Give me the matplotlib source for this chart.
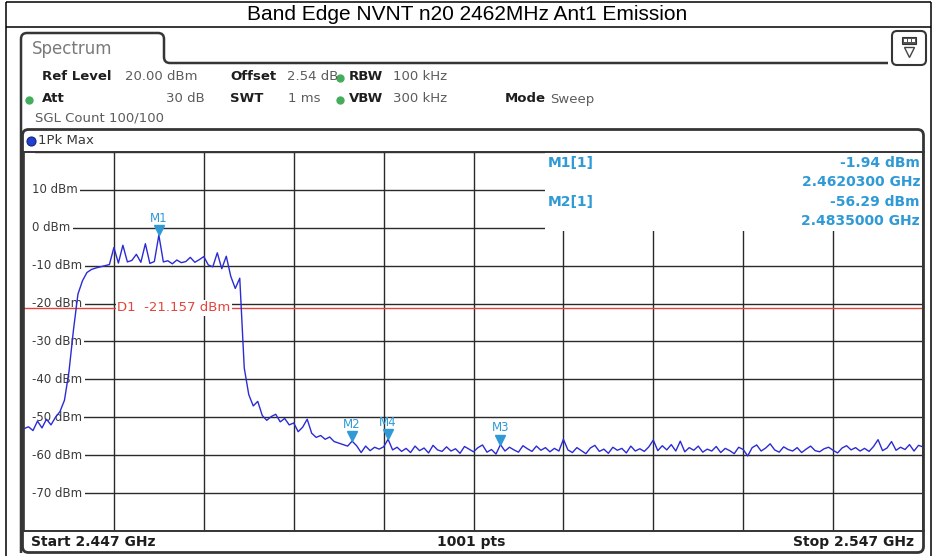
import numpy as np
import matplotlib
matplotlib.use("Agg")
import matplotlib.pyplot as plt
from matplotlib.patches import Rectangle, FancyBboxPatch, PathPatch
from matplotlib.path import Path
from matplotlib.transforms import offset_copy

# ---- data ----
TITLE = "Band Edge NVNT n20 2462MHz Ant1 Emission"
START_GHZ = 2.447
STOP_GHZ = 2.547
REF_LEVEL = 20.0
LEVEL_LABELS = [10, 0, -10, -20, -30, -40, -50, -60, -70]
D1_LEVEL = -21.157

# 1Pk Max trace, one value every 0.5 MHz from start to stop (dBm)
trace_dbm = [
    -53.0, -52.5, -53.5, -51.0, -52.8, -50.5, -52.0, -50.0, -48.5, -45.5,
    -38.0, -27.0, -17.5, -14.0, -11.8, -11.0, -10.6, -10.3, -10.0, -9.7,
    -5.2, -9.3, -4.6, -9.0, -8.6, -7.0, -9.1, -4.2, -9.4, -8.9,
    -1.94, -9.0, -8.7, -9.5, -8.5, -9.2, -8.9, -7.8, -9.1, -8.4,
    -7.6, -9.8, -10.3, -6.6, -10.8, -7.5, -12.8, -16.0, -13.3, -37.0,
    -44.0, -47.0, -45.8, -49.5, -50.8, -49.8, -49.2, -51.2, -50.3, -52.0,
    -51.5, -53.8, -52.6, -50.5, -54.2, -55.3, -54.8, -55.8, -55.2, -56.4,
    -56.8, -57.2, -57.6, -56.29, -57.5, -59.3, -57.6, -58.8, -57.9, -58.4,
    -57.8, -55.8, -58.6, -57.9, -59.0, -58.2, -59.3, -57.6, -58.8, -58.1,
    -59.4, -57.4, -58.6, -59.0, -57.8, -58.9, -58.3, -59.5, -57.7, -58.4,
    -59.1, -58.0, -57.3, -59.2, -58.5, -59.7, -57.2, -58.9, -57.9, -58.6,
    -59.2, -57.5, -58.3, -59.0, -57.6, -58.7, -58.0, -59.1, -58.2, -58.9,
    -55.8, -58.6, -59.3, -58.0, -58.8, -59.6, -58.1, -57.4, -59.0, -58.4,
    -59.5, -57.9, -58.7, -58.2, -59.4, -57.6, -58.9, -58.3, -59.0, -57.8,
    -56.0, -58.8, -57.5, -58.6, -57.2, -58.9, -56.3, -59.1, -58.0, -58.7,
    -57.6, -59.2, -58.4, -58.9, -57.7, -59.3, -58.2, -58.8, -59.6, -57.9,
    -58.5, -60.2, -58.0, -57.3, -58.9, -58.1, -57.0, -58.6, -59.2, -57.8,
    -58.5, -58.9, -58.0, -59.3, -58.4, -57.6, -58.8, -59.1, -58.3, -57.9,
    -58.7, -59.4, -58.1, -57.5, -58.6, -58.0, -58.9, -58.2, -59.0, -57.7,
    -55.9, -58.8, -58.1, -56.4, -58.7, -57.9, -58.5, -57.2, -58.9, -57.4,
    -57.8,
]

marker_names = ["M1", "M2", "M3", "M4"]
marker_ghz = [2.46203, 2.4835, 2.5000, 2.4875]
marker_dbm = [-1.94, -56.29, -57.2, -55.8]

marker_table = [
    ("M1[1]", "-1.94 dBm", "2.4620300 GHz"),
    ("M2[1]", "-56.29 dBm", "2.4835000 GHz"),
]

settings_row1 = [("Ref Level", "20.00 dBm"), ("Offset", "2.54 dB"), ("RBW", "100 kHz")]
settings_row2 = [("Att", "30 dB"), ("SWT", "1 ms"), ("VBW", "300 kHz"), ("Mode", "Sweep")]

# ---- colours ----
TRACE_C = "#2b2bd6"
MARK_C = "#2f9ad6"
D1_C = "#e2453c"
FRAME_C = "#353535"
LABEL_C = "#1e1e1e"
VALUE_C = "#5c5c5c"
GREEN = "#44ad5c"

W, H = 933, 556
fig = plt.figure(figsize=(W / 100, H / 100), dpi=100)

bg = fig.add_axes([0, 0, 1, 1])
bg.set_xlim(0, W)
bg.set_ylim(H, 0)
bg.axis("off")

# report table around the screenshot
for xs, ys in [([6, 931], [2, 2]), ([6, 931], [27, 27]), ([6, 6], [2, H]), ([931, 931], [2, H])]:
    bg.plot(xs, ys, color="black", lw=1.1, solid_capstyle="butt")
bg.text(467, 15, TITLE, ha="center", va="center", fontsize=15,
        family="Liberation Sans", color="black")

# Spectrum tab outline
verts = [(21, 553), (21, 39), (21, 33), (27, 33), (158, 33), (164, 33), (164, 39),
         (164, 57), (164, 63), (170, 63), (888, 63)]
codes = [Path.MOVETO, Path.LINETO, Path.CURVE3, Path.CURVE3, Path.LINETO, Path.CURVE3,
         Path.CURVE3, Path.LINETO, Path.CURVE3, Path.CURVE3, Path.LINETO]
bg.add_patch(PathPatch(Path(verts, codes), fill=False, ec=FRAME_C, lw=1.8))
bg.text(32, 49, "Spectrum", fontsize=12, color="#7a7a7a", va="center")

# icon button at top right
bg.add_patch(FancyBboxPatch((892, 31), 34, 34, boxstyle="round,pad=0,rounding_size=5",
                            fc="white", ec=FRAME_C, lw=1.5))
bg.add_patch(Rectangle((902, 37), 14, 7, fc="#555555", ec="#333333", lw=0.8))
for xi in (904, 908, 912):
    bg.add_patch(Rectangle((xi, 39), 2.5, 3, fc="white", ec="none"))
bg.plot(909, 52, marker="v", ms=7, mfc="white", mec="#444444", mew=1)

# settings block
row1_x = [(42, 125), (230, 287), (349, 393)]
for (lab, val), (xl, xv) in zip(settings_row1, row1_x):
    bg.text(xl, 77, lab, fontsize=9.5, weight="bold", color=LABEL_C, va="center")
    bg.text(xv, 77, val, fontsize=9.5, color=VALUE_C, va="center")
bg.plot(340, 78, "o", ms=5, color=GREEN)

row2_pos = [(42, 205, "right"), (230, 320, "right"), (349, 393, "left"), (505, 550, "left")]
for (lab, val), (xl, xv, ha) in zip(settings_row2, row2_pos):
    bg.text(xl, 99, lab, fontsize=9.5, weight="bold", color=LABEL_C, va="center")
    bg.text(xv, 99, val, fontsize=9.5, color=VALUE_C, va="center", ha=ha)
bg.plot(29, 100, "o", ms=5, color=GREEN)
bg.plot(340, 100, "o", ms=5, color=GREEN)
bg.text(35, 118, "SGL Count 100/100", fontsize=9.5, color=VALUE_C, va="center")

# trace header
bg.plot(31, 141, "o", ms=6.5, mfc="#2040d0", mec="#15257a", mew=0.8)
bg.text(38, 141, "1Pk Max", fontsize=9.5, color="#3a3a3a", va="center")

# bottom bar
bg.text(31, 542, "Start 2.447 GHz", fontsize=10, weight="bold", color=LABEL_C, va="center")
bg.text(471, 542, "1001 pts", fontsize=10, weight="bold", color=LABEL_C, va="center", ha="center")
bg.text(914, 542, "Stop 2.547 GHz", fontsize=10, weight="bold", color=LABEL_C, va="center", ha="right")

# ---- diagram ----
left_px, right_px, top_px, bot_px = 24, 923, 152, 531
ax = fig.add_axes([left_px / W, 1 - bot_px / H, (right_px - left_px) / W, (bot_px - top_px) / H])
ax.set_xlim(START_GHZ, STOP_GHZ)
ax.set_ylim(REF_LEVEL - 100, REF_LEVEL)
ax.set_xticks(np.linspace(START_GHZ, STOP_GHZ, 11))
ax.set_yticks(np.arange(REF_LEVEL - 100, REF_LEVEL + 1, 10))
ax.tick_params(length=0, labelbottom=False, labelleft=False)
ax.set_axisbelow(True)
ax.grid(True, color="#2a2a2a", lw=1.0)
for sp in ax.spines.values():
    sp.set_color(FRAME_C)
    sp.set_linewidth(1.2)

# marker list box hides the grid in the upper right corner
box_x0 = START_GHZ + (545 - left_px) / (right_px - left_px) * (STOP_GHZ - START_GHZ)
ax.add_patch(Rectangle((box_x0, -0.9), STOP_GHZ - box_x0, REF_LEVEL + 0.9,
                       fc="white", ec="none", zorder=1))
# blank strip in front of the level labels
ax.add_patch(Rectangle((0, 0), 0.012, 1, transform=ax.transAxes,
                       fc="white", ec="none", zorder=1.4))

ylab_tr = ax.get_yaxis_transform()
for lv in LEVEL_LABELS:
    ax.text(0.009, lv, f"{lv} dBm", transform=ylab_tr, fontsize=8.5, color="#3a3a3a",
            va="center", ha="left", zorder=1.5,
            bbox=dict(boxstyle="square,pad=0.2", fc="white", ec="none"))

ax.axhline(D1_LEVEL, color=D1_C, lw=1.0, zorder=2)
ax.text(0.104, D1_LEVEL, "D1  -21.157 dBm", transform=ylab_tr, fontsize=9.5, color=D1_C,
        va="center", ha="left", zorder=2.2,
        bbox=dict(boxstyle="square,pad=0.1", fc="white", ec="none"))

freq_ghz = np.linspace(START_GHZ, STOP_GHZ, len(trace_dbm))
ax.plot(freq_ghz, trace_dbm, color=TRACE_C, lw=1.0, zorder=3)

tri_tr = offset_copy(ax.transData, fig=fig, x=0, y=5, units="dots")
lab_tr = offset_copy(ax.transData, fig=fig, x=0, y=17, units="dots")
for name, f, lv in zip(marker_names, marker_ghz, marker_dbm):
    ax.plot(f, lv, marker="v", ms=6.5, color=MARK_C, transform=tri_tr, zorder=4)
    ax.text(f, lv, name, transform=lab_tr, fontsize=8.5, color=MARK_C,
            ha="center", va="center", zorder=4)

# ---- overlay: frame and marker table ----
top = fig.add_axes([0, 0, 1, 1])
top.set_xlim(0, W)
top.set_ylim(H, 0)
top.axis("off")
top.patch.set_alpha(0)
top.add_patch(FancyBboxPatch((22.5, 129.5), 901, 423, boxstyle="round,pad=0,rounding_size=6",
                             fc="none", ec=FRAME_C, lw=2))
top.plot([22.5, 923.5], [152, 152], color=FRAME_C, lw=1.2)
top.plot([22.5, 923.5], [531, 531], color=FRAME_C, lw=1.2)

for i, (mname, mval, mfreq) in enumerate(marker_table):
    y0 = 163 + i * 39
    top.text(548, y0, mname, fontsize=10, weight="bold", color=MARK_C, va="center")
    top.text(920, y0, mval, fontsize=10, weight="bold", color=MARK_C, va="center", ha="right")
    top.text(920, y0 + 19, mfreq, fontsize=10, weight="bold", color=MARK_C, va="center", ha="right")

fig.savefig("out.png", dpi=100, facecolor="white")
